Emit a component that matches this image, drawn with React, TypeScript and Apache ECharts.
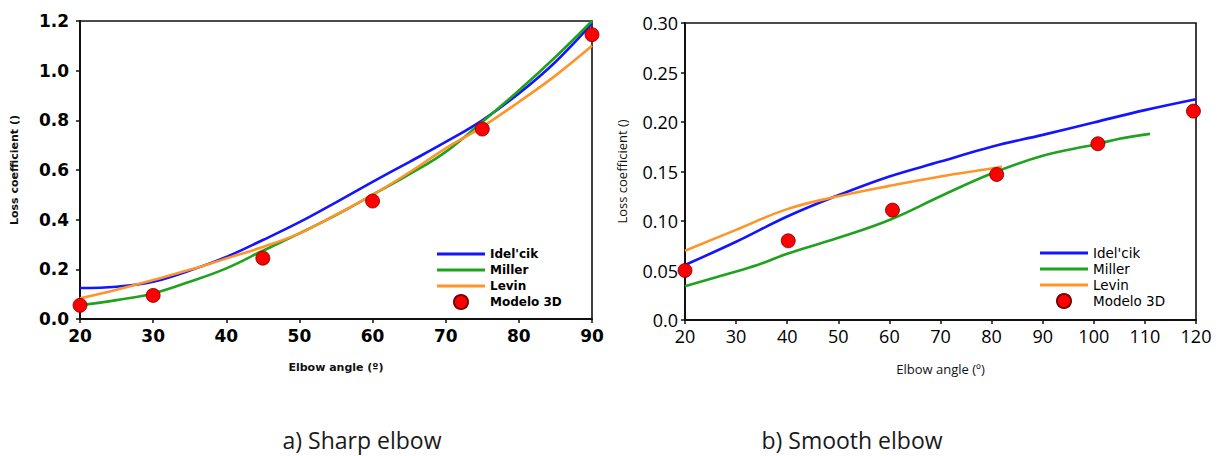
import React, { useEffect, useRef } from "react";
import * as echarts from "echarts";

// ---- Data: a) Sharp elbow ----
const sharpIdelcik: [number, number][] = [
  [20, 0.125], [25, 0.13], [30, 0.15], [35, 0.195], [40, 0.25], [45, 0.318], [50, 0.39],
  [55, 0.47], [60, 0.552], [65, 0.632], [70, 0.713], [75, 0.8], [80, 0.908], [85, 1.035], [90, 1.19],
];
const sharpMiller: [number, number][] = [
  [20, 0.056], [25, 0.076], [30, 0.103], [35, 0.15], [40, 0.204], [45, 0.275], [50, 0.345],
  [55, 0.418], [60, 0.5], [65, 0.582], [70, 0.673], [75, 0.794], [80, 0.92], [85, 1.055], [90, 1.2],
];
const sharpLevin: [number, number][] = [
  [20, 0.083], [25, 0.118], [30, 0.157], [35, 0.198], [40, 0.244], [45, 0.29], [50, 0.345],
  [55, 0.42], [60, 0.5], [65, 0.59], [70, 0.687], [75, 0.774], [80, 0.874], [85, 0.98], [90, 1.1],
];
const sharpModelo: [number, number][] = [
  [20, 0.055], [30, 0.095], [45, 0.245], [60, 0.475], [75, 0.765], [90, 1.145],
];

// ---- Data: b) Smooth elbow ----
const smoothIdelcik: [number, number][] = [
  [20, 0.0556], [30, 0.079], [40, 0.1045], [50, 0.126], [60, 0.145], [70, 0.16], [80, 0.175],
  [90, 0.187], [100, 0.1995], [110, 0.212], [120, 0.223],
];
const smoothMiller: [number, number][] = [
  [20, 0.034], [30, 0.049], [35, 0.057], [40, 0.067], [50, 0.083], [60, 0.101], [70, 0.125],
  [80, 0.148], [90, 0.166], [100, 0.177], [105, 0.183], [111, 0.188],
];
const smoothLevin: [number, number][] = [
  [20, 0.07], [30, 0.091], [40, 0.112], [50, 0.125], [60, 0.1355], [70, 0.145], [80, 0.153], [82, 0.155],
];
const smoothModelo: [number, number][] = [
  [20, 0.05], [40.2, 0.08], [60.6, 0.111], [81, 0.147], [100.8, 0.178], [119.5, 0.211],
];

const seriesNames = ["Idel'cik", "Miller", "Levin", "Modelo 3D"];
const captions = ["a) Sharp elbow", "b) Smooth elbow"];
const xTitle = "Elbow angle (º)";
const yTitle = "Loss coefficient ()";

const BLUE = "#1414ff";
const GREEN = "#1fa31f";
const ORANGE = "#ff9428";
const RED = "#ff0000";

const LINE_ICON = "path://M0,0H48V3H0Z";

export default function App() {
  const ref = useRef<HTMLDivElement>(null);
  useEffect(() => {
    document.body.style.margin = "0";
    if (!ref.current) return;
    const chart = echarts.init(ref.current, null, { renderer: "svg" });
    const boldFont = "DejaVu Sans";
    const normFont = "Open Sans";
    const lineSeries = (name: string, data: [number, number][], color: string, idx: number) => ({
      name,
      type: "line",
      xAxisIndex: idx,
      yAxisIndex: idx,
      data,
      smooth: 0.4,
      symbol: "none",
      lineStyle: { color, width: 2.6 },
      itemStyle: { color },
      z: 2,
    });
    const scatterSeries = (data: [number, number][], idx: number) => ({
      name: seriesNames[3],
      type: "scatter",
      xAxisIndex: idx,
      yAxisIndex: idx,
      data,
      symbol: "circle",
      symbolSize: 14,
      itemStyle: { color: RED, borderColor: "#700", borderWidth: 0.8, opacity: 1 },
      z: 5,
    });
    const legendData = [
      { name: seriesNames[0], icon: LINE_ICON },
      { name: seriesNames[1], icon: LINE_ICON },
      { name: seriesNames[2], icon: LINE_ICON },
      { name: seriesNames[3], icon: "circle" },
    ];
    const option: any = {
      animation: false,
      grid: [
        { left: 80, top: 21, width: 512, height: 298, show: true, borderColor: "#111", borderWidth: 1.6, containLabel: false },
        { left: 685, top: 23, width: 511, height: 297, show: true, borderColor: "#111", borderWidth: 1.6, containLabel: false },
      ],
      xAxis: [
        {
          type: "value", gridIndex: 0, min: 20, max: 90, interval: 10,
          splitLine: { show: false },
          axisLine: { show: true, lineStyle: { color: "#111", width: 2 } },
          axisTick: { show: true, length: 4, lineStyle: { color: "#111", width: 1.5 } },
          axisLabel: { color: "#000", fontFamily: boldFont, fontWeight: "bold", fontSize: 17, margin: 8 },
          name: xTitle, nameLocation: "middle", nameGap: 43,
          nameTextStyle: { color: "#111", fontFamily: boldFont, fontWeight: "bold", fontSize: 11 },
        },
        {
          type: "value", gridIndex: 1, min: 20, max: 120, interval: 10,
          splitLine: { show: false },
          axisLine: { show: true, lineStyle: { color: "#111", width: 2 } },
          axisTick: { show: true, length: 4, lineStyle: { color: "#111", width: 1.5 } },
          axisLabel: { color: "#000", fontFamily: normFont, fontSize: 18, margin: 7 },
          name: xTitle, nameLocation: "middle", nameGap: 42,
          nameTextStyle: { color: "#111", fontFamily: normFont, fontSize: 13 },
        },
      ],
      yAxis: [
        {
          type: "value", gridIndex: 0, min: 0, max: 1.2, interval: 0.2,
          splitLine: { show: false },
          axisLine: { show: true, lineStyle: { color: "#111", width: 2 } },
          axisTick: { show: true, length: 4, lineStyle: { color: "#111", width: 1.5 } },
          axisLabel: {
            color: "#000", fontFamily: boldFont, fontWeight: "bold", fontSize: 17, margin: 11,
            formatter: (v: number) => v.toFixed(1),
          },
          name: yTitle, nameLocation: "middle", nameGap: 60, nameRotate: 90,
          nameTextStyle: { color: "#111", fontFamily: boldFont, fontWeight: "bold", fontSize: 11 },
        },
        {
          type: "value", gridIndex: 1, min: 0, max: 0.3, interval: 0.05,
          splitLine: { show: false },
          axisLine: { show: true, lineStyle: { color: "#111", width: 2 } },
          axisTick: { show: true, length: 4, lineStyle: { color: "#111", width: 1.5 } },
          axisLabel: {
            color: "#000", fontFamily: normFont, fontSize: 18, margin: 7,
            formatter: (v: number) => (v === 0 ? "0.0" : v.toFixed(2)),
          },
          name: yTitle, nameLocation: "middle", nameGap: 57, nameRotate: 90,
          nameTextStyle: { color: "#111", fontFamily: normFont, fontSize: 13 },
        },
      ],
      legend: [
        {
          data: legendData,
          orient: "vertical",
          left: 432, top: 241,
          itemWidth: 48, itemHeight: 14, itemGap: 0,
          symbolKeepAspect: true,
          textStyle: { color: "#000", fontFamily: boldFont, fontWeight: "bold", fontSize: 12, lineHeight: 16 },
          selectedMode: false,
        },
        {
          data: legendData,
          orient: "vertical",
          left: 1035, top: 240,
          itemWidth: 48, itemHeight: 14, itemGap: 0,
          symbolKeepAspect: true,
          textStyle: { color: "#000", fontFamily: "DejaVu Sans", fontSize: 13.5, lineHeight: 16 },
          selectedMode: false,
        },
      ],
      series: [
        lineSeries(seriesNames[0], sharpIdelcik, BLUE, 0),
        lineSeries(seriesNames[1], sharpMiller, GREEN, 0),
        lineSeries(seriesNames[2], sharpLevin, ORANGE, 0),
        scatterSeries(sharpModelo, 0),
        lineSeries(seriesNames[0], smoothIdelcik, BLUE, 1),
        lineSeries(seriesNames[1], smoothMiller, GREEN, 1),
        lineSeries(seriesNames[2], smoothLevin, ORANGE, 1),
        scatterSeries(smoothModelo, 1),
      ],
      graphic: [
        {
          type: "text", x: 362, y: 440,
          style: { text: captions[0], font: "23px 'Open Sans'", fill: "#1a1a1a", align: "center", verticalAlign: "middle" },
        },
        {
          type: "text", x: 852, y: 440,
          style: { text: captions[1], font: "23px 'Open Sans'", fill: "#1a1a1a", align: "center", verticalAlign: "middle" },
        },
      ],
    };
    chart.setOption(option);
    return () => chart.dispose();
  }, []);
  return <div ref={ref} style={{ width: 1219, height: 456 }} />;
}
